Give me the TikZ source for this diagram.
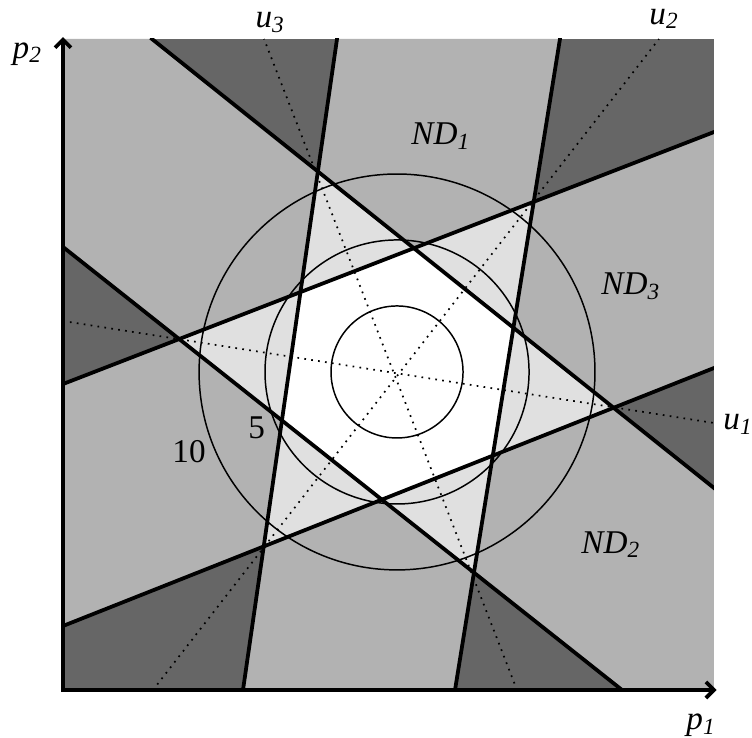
\documentclass[tikz,border=0pt]{standalone}
\usepackage{fontspec}
\setmainfont{Liberation Serif}
\usetikzlibrary{arrows.meta}

\definecolor{zeroband}{gray}{0.4}
\definecolor{oneband}{gray}{0.7}
\definecolor{twoband}{gray}{0.88}
\newcommand{\bandA}{(2.765,0) -- (4.209,10) -- (7.634,10) -- (6.022,0) -- cycle}
\newcommand{\bandB}{(0,0.983) -- (0,4.700) -- (10,8.571) -- (10,4.946) -- cycle}
\newcommand{\bandC}{(0,6.805) -- (0,10) -- (1.367,10) -- (10,3.103) -- (10,0) -- (8.587,0) -- cycle}
\newcommand{\sublab}[2]{\textit{#1}\textsubscript{\textit{#2}}}

\begin{document}
\begin{tikzpicture}[x=1cm,y=1cm,font=\fontsize{14.5}{17}\selectfont,
  bound/.style={line width=1.65pt,line cap=rect},
  level/.style={line width=0.65pt},
  ray/.style={line width=0.75pt,dash pattern=on 0.75pt off 2.3pt},
  axis/.style={line width=1.65pt,line cap=rect,-{Straight Barb[length=3.5pt,width=7pt]}},
  lbl/.style={anchor=base west,inner sep=0pt}]
  \useasboundingbox (-0.968,-0.737) rectangle (10.584,10.599);
  % shading: how many bands hold the point
  \fill[zeroband] (0,0) rectangle (10,10);
  \fill[oneband] \bandA; \fill[oneband] \bandB; \fill[oneband] \bandC;
  \begin{scope} \clip \bandA; \fill[twoband] \bandB; \fill[twoband] \bandC; \end{scope}
  \begin{scope} \clip \bandB; \fill[twoband] \bandC; \end{scope}
  \begin{scope} \clip \bandA; \clip \bandB; \fill[white] \bandC; \end{scope}
  % level circles
  \coordinate (c) at (5.131,4.885);
  \foreach \r in {1.014,2.028,3.041} { \draw[level] (c) circle (\r); }
  \begin{scope}
    \clip (0,0) rectangle (10,10);
    % directions u1, u2, u3
    \foreach \xa/\ya/\xb/\yb in {0/5.668/10/4.101, 1.382/0/9.155/10, 6.974/0/3.088/10}
      { \draw[ray] (\xa,\ya) -- (\xb,\yb); }
    % band boundaries
    \foreach \xa/\ya/\xb/\yb in {2.765/0/4.209/10, 6.022/0/7.634/10,
        0/4.700/10/8.571, 0/0.983/10/4.946, 1.367/10/10/3.103, 0/6.805/8.587/0}
      { \draw[bound] (\xa,\ya) -- (\xb,\yb); }
  \end{scope}
  % axes
  \draw[axis] (0,0) -- (0,10.03);
  \draw[axis] (0,0) -- (10.04,0);
  \node[lbl] (p2) at (-0.78,9.708) {\sublab{p}{2}};
  \node[lbl] (p1) at (9.57,-0.614) {\sublab{p}{1}};
  \node[lbl] (u1) at (10.138,3.994) {\sublab{u}{1}};
  \node[lbl] (u2) at (9.002,10.23) {\sublab{u}{2}};
  \node[lbl] (u3) at (2.95,10.17) {\sublab{u}{3}};
  \node[lbl] (nd1) at (5.346,8.372) {\sublab{ND}{1}};
  \node[lbl] (nd2) at (7.957,2.104) {\sublab{ND}{2}};
  \node[lbl] (nd3) at (8.264,6.068) {\sublab{ND}{3}};
  \node[lbl] (ten) at (1.674,3.502) {10};
  \node[lbl] (five) at (2.842,3.856) {5};
\end{tikzpicture}
\end{document}
